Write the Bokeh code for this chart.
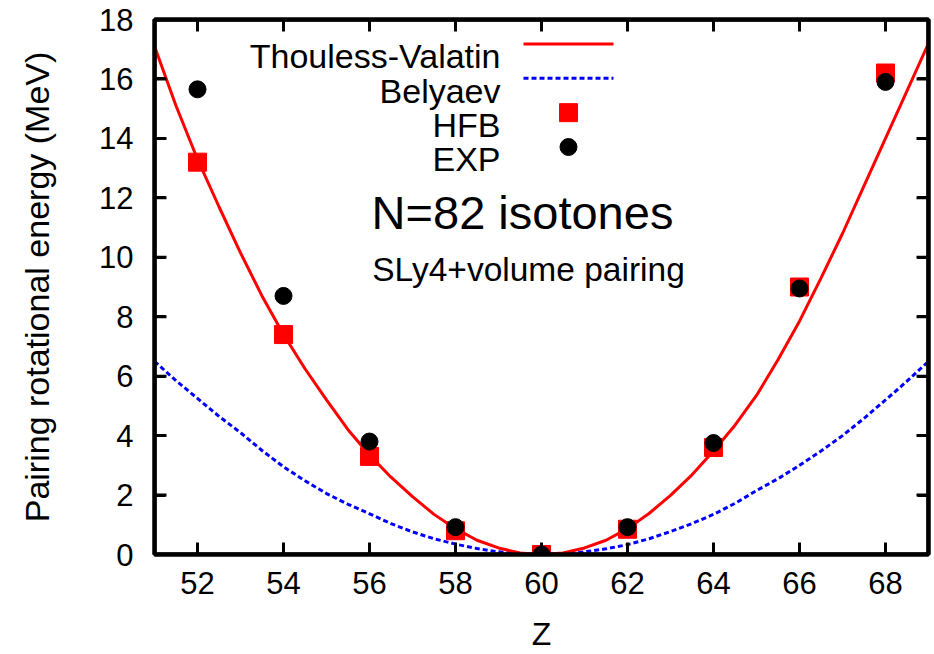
import math
from bokeh.plotting import figure
from bokeh.models import Range1d, LinearAxis, FixedTicker, BoxAnnotation
from bokeh.embed import file_html
from bokeh.resources import INLINE
from bokeh.core.properties import value

# ---------------- data ----------------
z_points = [52, 54, 56, 58, 60, 62, 64, 66, 68]
hfb = [13.2, 7.4, 3.3, 0.8, 0.0, 0.85, 3.6, 9.0, 16.2]
exp_vals = [15.65, 8.7, 3.8, 0.92, 0.0, 0.92, 3.75, 8.95, 15.9]

curve_z = [51, 51.5, 52, 52.5, 53, 53.5, 54, 54.5, 55, 55.5, 56, 56.5, 57, 57.5, 58, 58.5, 59, 59.5,
           60, 60.5, 61, 61.5, 62, 62.5, 63, 63.5, 64, 64.5, 65, 65.5, 66, 66.5, 67, 67.5, 68, 68.5, 69]
thouless_valatin = [17.1, 15.1, 13.3, 11.7, 10.15, 8.7, 7.4, 6.25, 5.2, 4.2, 3.35, 2.6, 1.95, 1.35,
                    0.87, 0.48, 0.22, 0.05, 0.0, 0.05, 0.22, 0.48, 0.87, 1.38, 1.99, 2.68, 3.48,
                    4.35, 5.35, 6.55, 7.85, 9.3, 10.8, 12.4, 14.0, 15.6, 17.2]
belyaev = [6.5, 5.85, 5.25, 4.65, 4.1, 3.5, 2.95, 2.48, 2.05, 1.69, 1.37, 1.04, 0.76, 0.53, 0.35,
           0.2, 0.09, 0.02, 0.0, 0.02, 0.09, 0.19, 0.33, 0.53, 0.77, 1.04, 1.35, 1.72, 2.15, 2.55,
           3.0, 3.48, 4.0, 4.58, 5.2, 5.83, 6.5]

x_ticks = [52, 54, 56, 58, 60, 62, 64, 66, 68]
y_ticks = [0, 2, 4, 6, 8, 10, 12, 14, 16, 18]
legend_labels = ["Thouless-Valatin", "Belyaev", "HFB", "EXP"]

# ---------------- layout ----------------
W, H = 934, 654
FL, FR, FT, FB = 154, 928, 19, 556
X0, X1, Y0, Y1 = 51, 69, 0, 18
FONT = "Liberation Sans"
TICK_PX = 12

p = figure(width=W, height=H, output_backend="svg", toolbar_location=None,
           x_range=Range1d(X0, X1), y_range=Range1d(Y0, Y1),
           min_border_left=FL, min_border_right=W - FR,
           min_border_top=FT, min_border_bottom=H - FB)
p.xgrid.visible = False
p.ygrid.visible = False
p.outline_line_color = "black"
p.outline_line_width = 4
p.background_fill_color = "white"
p.border_fill_color = "white"

# mirror axes so that the box carries inward ticks on all four sides
p.add_layout(LinearAxis(), "above")
p.add_layout(LinearAxis(), "right")


def style_axis(ax, ticks, show_labels):
    ax.ticker = FixedTicker(ticks=ticks)
    ax.axis_line_width = 4
    ax.axis_line_color = "black"
    ax.major_tick_in = 11
    ax.major_tick_out = 0
    ax.major_tick_line_width = 3
    ax.major_tick_line_color = "black"
    ax.minor_tick_line_color = None
    ax.major_label_text_font = FONT
    ax.major_label_text_color = "black"
    ax.major_label_text_font_size = "31px"
    if not show_labels:
        ax.major_label_overrides = {t: "" for t in ticks}
        ax.major_label_standoff = 0


style_axis(p.below[0], x_ticks, True)
style_axis(p.above[0], x_ticks, False)
style_axis(p.left[0], y_ticks, True)
style_axis(p.right[0], y_ticks, False)

xax, yax = p.below[0], p.left[0]
xax.major_label_standoff = 17
yax.major_label_standoff = 21
for ax in (xax, yax):
    ax.axis_label_text_font = FONT
    ax.axis_label_text_font_style = "normal"
    ax.axis_label_text_color = "black"
xax.axis_label = "Z"
xax.axis_label_text_font_size = "32px"
xax.axis_label_standoff = 19
yax.axis_label = "Pairing rotational energy (MeV)"
yax.axis_label_text_font_size = "34px"
yax.axis_label_standoff = 40


# ---------------- helpers: pixel layout -> data coords ----------------
def xd(px):
    return X0 + (px - FL) * (X1 - X0) / (FR - FL)


def yd(py):
    return Y0 + (FB - py) * (Y1 - Y0) / (FB - FT)


# ---------------- series ----------------
p.line(curve_z, belyaev, line_color="#0000ff", line_width=3, line_dash="5 3")
p.line(curve_z, thouless_valatin, line_color="#ff0000", line_width=3)
p.scatter(z_points, hfb, marker="square", size=18, fill_color="#ff0000", line_color="#ff0000")
p.scatter(z_points, exp_vals, marker="circle", size=17, fill_color="black", line_color="black")

# ---------------- frame box + inward tick marks (drawn again as annotation / markers) ----------------
p.add_layout(BoxAnnotation(left=X0, right=X1, bottom=Y0, top=Y1, fill_alpha=0,
                           line_color="black", line_width=4, line_alpha=1.0))
nx, ny = len(x_ticks), len(y_ticks)
p.scatter(x=x_ticks + x_ticks, y=[Y0] * nx + [Y1] * nx, marker="dash", size=2 * TICK_PX,
          angle=math.pi / 2, line_color="black", line_width=3)
p.scatter(x=[X0] * ny + [X1] * ny, y=y_ticks + y_ticks, marker="dash", size=2 * TICK_PX,
          angle=0, line_color="black", line_width=3)

# ---------------- legend (label left, sample right) ----------------
leg_text_right = 500
leg_baselines = [56, 90.5, 125, 159.5]
leg_sample = (523, 613)
leg_marker_x = 568

for lab, base in zip(legend_labels, leg_baselines):
    p.text(x=[xd(leg_text_right)], y=[yd(base)], text=[lab], text_align="right",
           text_baseline="alphabetic", text_font=value(FONT), text_font_size="34px",
           text_color="black")

mid = [b - 12.5 for b in leg_baselines]
p.line([xd(leg_sample[0]), xd(leg_sample[1])], [yd(mid[0])] * 2, line_color="#ff0000", line_width=3)
p.line([xd(leg_sample[0]), xd(leg_sample[1])], [yd(mid[1])] * 2, line_color="#0000ff",
       line_width=3, line_dash="5 3")
p.scatter([xd(leg_marker_x)], [yd(mid[2])], marker="square", size=18,
          fill_color="#ff0000", line_color="#ff0000")
p.scatter([xd(leg_marker_x)], [yd(mid[3])], marker="circle", size=17,
          fill_color="black", line_color="black")

# ---------------- in-plot titles ----------------
p.text(x=[xd(522)], y=[yd(213)], text=["N=82 isotones"], text_align="center",
       text_baseline="alphabetic", text_font=value(FONT), text_font_size="47px", text_color="black")
p.text(x=[xd(528)], y=[yd(270)], text=["SLy4+volume pairing"], text_align="center",
       text_baseline="alphabetic", text_font=value(FONT), text_font_size="33.5px", text_color="black")

open("out.html", "w").write(file_html(p, INLINE))
